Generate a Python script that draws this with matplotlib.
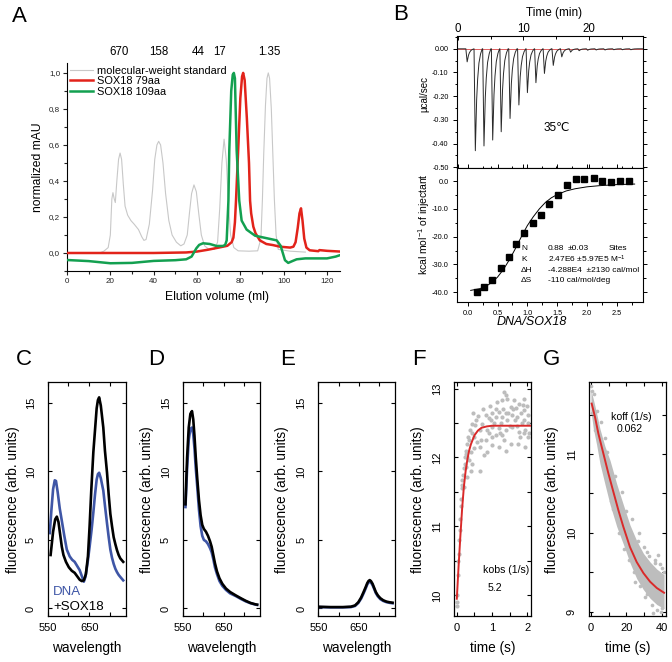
import matplotlib
matplotlib.use("Agg")
import matplotlib.pyplot as plt
from matplotlib.lines import Line2D
from matplotlib.ticker import MultipleLocator, FuncFormatter, FixedLocator, FixedFormatter
import matplotlib.transforms as mtransforms

plt.rcParams['font.family'] = ['Liberation Sans', 'DejaVu Sans']
plt.rcParams['mathtext.fontset'] = 'custom'
plt.rcParams['mathtext.rm'] = 'Liberation Sans'
plt.rcParams['mathtext.it'] = 'Liberation Sans:italic'
plt.rcParams['mathtext.bf'] = 'Liberation Sans:bold'
plt.rcParams['axes.unicode_minus'] = False

# ---------------- data: panel A (size-exclusion chromatography) ----------------
std_ml = [15, 17, 19, 20, 20.7, 21.2, 21.8, 22.3, 23.0, 23.8, 24.5, 25.2, 26.0, 26.8, 28, 29.5, 31, 33,
          34.5, 35.5, 36.5, 38, 39.5, 40.5, 41.5, 42.3, 43.2, 44.3, 45.5, 47, 48.5, 50.5, 52.5, 54, 55.5,
          56.5, 57.5, 58.6, 59.7, 60.8, 62, 63.5, 65.5, 68, 69.5, 70.5, 71.5, 72.5, 73.5, 74.5, 75.5, 77,
          79, 84, 88, 89.5, 90.2, 90.8, 91.6, 92.3, 92.9, 93.5, 94.3, 95.0, 95.7, 96.5, 97.5, 103, 110]
std_val = [0.0, 0.01, 0.03, 0.10, 0.30, 0.335, 0.30, 0.28, 0.40, 0.52, 0.555, 0.52, 0.38, 0.26, 0.21, 0.18,
           0.16, 0.13, 0.09, 0.07, 0.075, 0.16, 0.35, 0.52, 0.60, 0.62, 0.60, 0.50, 0.33, 0.18, 0.10, 0.06,
           0.04, 0.05, 0.10, 0.22, 0.33, 0.378, 0.34, 0.22, 0.10, 0.04, 0.02, 0.02, 0.06, 0.25, 0.50, 0.632,
           0.52, 0.28, 0.10, 0.03, 0.012, 0.01, 0.012, 0.08, 0.30, 0.55, 0.82, 0.97, 1.0, 0.97, 0.80, 0.55,
           0.30, 0.10, 0.02, 0.01, 0.005]
s79_ml = [0, 40, 55, 60, 65, 70, 74, 76, 76.8, 77.5, 78, 79, 80, 80.8, 81.3, 82, 83, 84, 84.5, 85, 86, 87,
          89, 92, 95, 98.3, 103, 104.5, 105.5, 106.5, 107.3, 108, 108.7, 109.5, 110.5, 112, 116, 116.5,
          120, 126]
s79_val = [0.0, 0.0, 0.003, 0.008, 0.018, 0.03, 0.04, 0.06, 0.085, 0.17, 0.29, 0.57, 0.86, 0.98, 1.0, 0.96,
           0.75, 0.50, 0.29, 0.22, 0.146, 0.11, 0.07, 0.05, 0.044, 0.035, 0.03, 0.035, 0.06, 0.14, 0.22,
           0.248, 0.18, 0.08, 0.03, 0.015, 0.01, 0.016, 0.012, 0.008]
s109_ml = [0, 10, 20, 30, 40, 50, 55, 57.5, 59.7, 61, 62.8, 65.9, 69, 72, 73, 73.7, 74.5, 74.9, 75.8, 76.5,
           77.0, 77.5, 78.3, 79.5, 80.6, 82.9, 86.8, 92.2, 96.8, 98.6, 100.6, 102.1, 104, 106, 110, 115,
           120, 124, 126]
s109_val = [-0.039, -0.045, -0.057, -0.055, -0.044, -0.04, -0.035, -0.02, 0.026, 0.045, 0.054, 0.05, 0.039,
            0.039, 0.045, 0.07, 0.29, 0.57, 0.90, 0.99, 1.0, 0.97, 0.57, 0.29, 0.18, 0.13, 0.096, 0.082,
            0.07, 0.04, -0.04, -0.055, -0.045, -0.035, -0.03, -0.03, -0.03, -0.02, -0.012]
mw_labels = ['670', '158', '44', '17', '1.35']
mw_pos_ml = [24.0, 42.5, 60.5, 70.3, 93.2]
legendA = ['molecular-weight standard', 'SOX18 79aa', 'SOX18 109aa']

# ---------------- data: panel B (ITC) ----------------
inj_time = [1.4, 2.65, 3.97, 5.3, 6.6, 7.95, 9.3, 10.6, 11.9, 13.2, 14.55, 15.85, 17.2, 18.5, 19.8,
            21.1, 22.45, 23.8, 25.1, 26.4]
inj_peak = [-0.055, -0.43, -0.41, -0.385, -0.35, -0.294, -0.237, -0.185, -0.143, -0.104, -0.07, -0.034,
            -0.014, -0.008, -0.006, -0.005, -0.005, -0.004, -0.004, -0.004]
itc_ratio = [0.15, 0.28, 0.41, 0.55, 0.69, 0.81, 0.95, 1.09, 1.23, 1.37, 1.52, 1.66, 1.81, 1.95, 2.11,
             2.25, 2.40, 2.56, 2.70]
itc_heat = [-40.1, -38.1, -35.6, -31.5, -27.2, -22.6, -18.5, -15.2, -12.2, -8.3, -4.9, -1.45, 0.8, 0.7,
            1.3, 0.0, -0.1, 0.0, 0.0]
fit_ratio = [0.05, 0.2, 0.3, 0.4, 0.5, 0.6, 0.7, 0.8, 0.9, 1.0, 1.1, 1.2, 1.3, 1.4, 1.5, 1.65, 1.8, 2.0,
             2.2, 2.5, 2.8]
fit_heat = [-39.4, -38.8, -38.0, -36.6, -34.6, -31.8, -28.3, -24.3, -20.0, -16.0, -12.8, -10.0, -7.7,
            -6.0, -4.8, -3.5, -2.7, -2.0, -1.6, -1.2, -1.0]
itc_param_names = ['N', 'K', 'ΔH', 'ΔS']
itc_param_values = ['0.88', '2.47E6 ±5.97E5 M$^{-1}$', '-4.288E4  ±2130 cal/mol', '-110 cal/mol/deg']

# ---------------- data: panels C-E (spectra) ----------------
C_blk_nm = [557, 563, 568, 572, 576, 580, 584, 588, 594, 601, 608, 615, 621, 627, 632, 637, 642, 647, 651,
            655, 660, 664, 668, 671, 674, 678, 684, 688, 693, 697, 701, 705, 709, 713, 717, 721, 725, 732]
C_blk = [3.9, 5.6, 6.5, 6.7, 6.3, 5.4, 4.5, 3.9, 3.4, 3.0, 2.75, 2.6, 2.35, 2.1, 2.0, 2.05, 2.5, 3.8, 6.0,
         8.6, 11.4, 13.0, 14.6, 15.2, 15.4, 14.8, 13.2, 11.5, 9.9, 8.3, 6.9, 6.0, 5.2, 4.7, 4.25, 3.9, 3.65,
         3.4]
C_blu_nm = [555, 559, 563, 567, 570, 574, 579, 584, 590, 596, 603, 609, 615, 621, 627, 633, 637, 641, 646,
            651, 656, 660, 664, 668, 671, 674, 678, 684, 688, 693, 697, 701, 705, 709, 713, 717, 721, 725,
            732]
C_blu = [5.5, 7.2, 8.7, 9.35, 9.3, 8.5, 7.3, 6.4, 5.3, 4.3, 3.8, 3.55, 3.4, 3.1, 2.8, 2.3, 1.95, 2.3, 3.3,
         4.5, 5.8, 7.0, 8.3, 9.4, 9.8, 9.9, 9.5, 8.6, 7.5, 6.2, 5.2, 4.3, 3.7, 3.25, 2.9, 2.65, 2.45, 2.3,
         2.05]
D_nm = [556, 560, 564, 568, 572, 575, 578, 581, 585, 589, 593, 597, 601, 606, 611, 616, 620, 624, 628, 633,
        639, 646, 655, 665, 679, 691, 703, 715, 727, 731]
D_blk = [7.6, 11.0, 13.2, 14.2, 14.4, 13.8, 12.6, 11.1, 9.4, 7.9, 6.8, 6.1, 5.8, 5.6, 5.3, 4.9, 4.5, 3.9,
         3.3, 2.7, 2.2, 1.8, 1.45, 1.2, 0.95, 0.75, 0.56, 0.4, 0.3, 0.28]
D_blu = [7.4, 10.2, 12.3, 13.1, 13.2, 12.7, 11.7, 10.3, 8.8, 7.2, 6.0, 5.3, 5.0, 4.9, 4.7, 4.4, 4.1, 3.6,
         3.0, 2.5, 2.0, 1.65, 1.35, 1.1, 0.9, 0.7, 0.52, 0.38, 0.28, 0.26]
E_nm = [554, 580, 610, 630, 640, 648, 655, 661, 666, 670, 673, 676, 679, 683, 687, 691, 696, 702, 709, 717,
        725, 732]
E_blk = [0.12, 0.1, 0.1, 0.13, 0.22, 0.45, 0.8, 1.2, 1.55, 1.85, 2.0, 2.07, 2.0, 1.8, 1.5, 1.2, 0.95, 0.75,
         0.6, 0.5, 0.45, 0.42]
E_blu = [0.1, 0.08, 0.08, 0.1, 0.18, 0.4, 0.72, 1.1, 1.45, 1.75, 1.9, 1.95, 1.9, 1.7, 1.42, 1.12, 0.88,
         0.68, 0.55, 0.46, 0.41, 0.38]
legendC = ['DNA', '+SOX18']

# ---------------- data: panel F (association kinetics) ----------------
F_t = [1.34, 1.39, 1.44, 1.29, 1.63, 1.77, 1.87, 1.53, 1.67, 1.91, 1.2, 1.01, 1.39, 1.82, 0.82, 1.1, 1.29,
       1.58, 1.72, 2.01, 0.91, 1.44, 1.91, 0.72, 0.44, 0.53, 1.01, 1.2, 1.39, 1.58, 1.77, 1.91, 2.01, 0.91,
       1.1, 1.29, 0.82, 0.58, 1.01, 0.67, 1.2, 0.865, 0.77, 0.485, 0.39, 0.295, 0.34, 0.44, 0.247, 0.39,
       0.67, 0.295, 0.15, 0.2, 0.6, 0.65, 0.75, 0.95, 1.05, 1.15, 1.25, 1.35, 1.45, 1.5, 1.55, 1.6, 1.7,
       1.75, 1.85, 1.9, 1.95, 2.0, 2.03, 0.5, 0.55, 0.35, 0.25, 0.45, 0.85, 1.0, 1.3, 1.4, 1.65, 1.8, 1.95,
       2.05, 0.7, 1.12, 1.22, 0.98, 0.0, 0.0, 0.01, 0.02, 0.03, 0.05, 0.06, 0.08, 0.1, 0.11, 0.13, 0.14,
       0.16, 0.18, 0.2, 0.22, 0.24, 0.27, 0.3, 0.33, 0.38, 0.42]
F_v = [12.95, 12.9, 12.85, 12.83, 12.83, 12.78, 12.76, 12.73, 12.71, 12.69, 12.66, 12.64, 12.64, 12.64,
       12.61, 12.59, 12.59, 12.61, 12.59, 12.61, 12.57, 12.54, 12.54, 12.49, 12.49, 12.47, 12.44, 12.42,
       12.4, 12.44, 12.37, 12.35, 12.3, 12.35, 12.32, 12.32, 12.25, 12.23, 12.18, 12.15, 12.15, 12.08,
       12.03, 12.13, 12.08, 12.01, 11.96, 11.91, 11.86, 11.81, 11.81, 11.72, 11.67, 11.57, 12.6, 12.4,
       12.7, 12.75, 12.5, 12.8, 12.5, 12.25, 12.65, 12.45, 12.2, 12.7, 12.45, 12.2, 12.5, 12.85, 12.4,
       12.75, 12.5, 12.3, 12.55, 12.25, 12.1, 12.65, 12.4, 12.3, 12.7, 12.1, 12.55, 12.3, 12.15, 12.35,
       12.25, 12.7, 12.35, 12.55, 9.85, 9.9, 10.0, 10.3, 10.5, 10.6, 10.8, 10.95, 11.1, 11.3, 11.4, 11.55,
       11.6, 11.75, 11.85, 11.9, 12.0, 12.05, 12.2, 12.3, 12.4, 12.35]
F_fit_t = [0, 0.05, 0.1, 0.15, 0.2, 0.25, 0.3, 0.35, 0.4, 0.5, 0.6, 0.7, 0.85, 1.0, 2.08]
F_fit_v = [9.95, 10.42, 10.85, 11.25, 11.57, 11.8, 11.97, 12.1, 12.19, 12.32, 12.39, 12.43, 12.45, 12.46,
           12.46]

# ---------------- data: panel G (dissociation kinetics) ----------------
G_fit_t = [0.4, 2.3, 4.2, 7.0, 9.8, 12.7, 15.5, 18.3, 22.1, 25.9, 29.7, 33.5, 37.3, 41.4]
G_fit_v = [11.64, 11.47, 11.26, 11.01, 10.76, 10.52, 10.29, 10.08, 9.82, 9.63, 9.49, 9.38, 9.30, 9.24]
G_band_t = [0.0, 1.3, 3.2, 5.1, 7.9, 10.8, 14.6, 18.3, 22.1, 25.9, 29.7, 33.5, 37.3, 41.4]
G_band_hi = [11.81, 11.70, 11.52, 11.32, 11.10, 10.92, 10.62, 10.36, 10.10, 9.90, 9.74, 9.63, 9.54, 9.47]
G_band_lo = [11.55, 11.33, 11.12, 10.88, 10.62, 10.36, 10.08, 9.86, 9.62, 9.42, 9.28, 9.17, 9.09, 9.04]
G_t = [0.3, 0.8, 1.5, 0.5, 2.2, 3.5, 5.5, 6.8, 9.0, 11.5, 13.5, 16.0, 17.5, 20.0, 21.5, 23.0, 24.5, 26.5,
       28.0, 30.0, 31.5, 33.0, 34.5, 36.0, 37.5, 39.0, 40.5, 41.2, 35.0, 38.0, 30.5, 25.0, 19.0, 12.5,
       8.0, 27.0, 32.0, 39.5, 36.5, 40.0]
G_v = [11.86, 11.80, 11.76, 11.52, 11.30, 11.55, 11.40, 10.85, 11.02, 10.40, 10.72, 10.00, 10.52, 10.28,
       9.65, 10.18, 9.50, 9.90, 9.32, 9.82, 9.22, 9.70, 9.08, 9.62, 9.02, 9.60, 9.05, 9.50, 8.98, 9.72,
       9.18, 9.38, 9.80, 10.30, 11.20, 10.00, 9.76, 8.99, 9.66, 9.56]

# ---------------- figure ----------------
W, H = 672, 662
fig = plt.figure(figsize=(W / 100, H / 100), dpi=100)


def add_ax(l, t, r, b):
    return fig.add_axes([l / W, 1 - b / H, (r - l) / W, (b - t) / H])


def ftext(x, y, s, **kw):
    return fig.text(x / W, 1 - y / H, s, **kw)


RED = '#e2231a'
GREEN = '#13a050'
GRAY = '#c8c8c8'
BLUE = '#3f56a6'
DOT = '#bdbdbd'
FITRED = '#d92a2a'

# panel letters
for letter, (x, y) in zip('ABCDEFG', [(19.5, 22), (401, 20), (24, 365), (156, 365), (288, 365),
                                      (419, 365), (552, 365)]):
    ftext(x, y, letter, fontsize=16, ha='center', va='baseline')

# ---------------- panel A ----------------
axA = add_ax(67, 63, 340, 271)
axA.plot(std_ml, std_val, color=GRAY, lw=0.8, zorder=2)
axA.plot(s79_ml, s79_val, color=RED, lw=1.8, zorder=3)
axA.plot(s109_ml, s109_val, color=GREEN, lw=1.8, zorder=4)
axA.set_xlim(0, 126)
axA.set_ylim(-0.1, 1.055)
axA.spines['top'].set_visible(False)
axA.spines['right'].set_visible(False)
for s in ('left', 'bottom'):
    axA.spines[s].set_linewidth(0.8)
axA.xaxis.set_major_locator(MultipleLocator(20))
axA.xaxis.set_minor_locator(MultipleLocator(10))
axA.yaxis.set_major_locator(FixedLocator([0.0, 0.2, 0.4, 0.6, 0.8, 1.0]))
axA.yaxis.set_minor_locator(FixedLocator([-0.1, 0.1, 0.3, 0.5, 0.7, 0.9]))
axA.yaxis.set_major_formatter(FuncFormatter(lambda v, p: f'{v:.1f}'.replace('.', ',')))
axA.tick_params(which='both', direction='out', labelsize=5.8, width=0.8, colors='#222222', pad=2)
axA.tick_params(which='major', length=3)
axA.tick_params(which='minor', length=2)
axA.set_xlabel('Elution volume (ml)', fontsize=8.7)
axA.xaxis.set_label_coords(0.549, -0.096)
axA.set_ylabel('normalized mAU', fontsize=8.7)
axA.yaxis.set_label_coords(-0.084, 0.5)
transA = mtransforms.blended_transform_factory(axA.transData, fig.transFigure)
for lab, pos in zip(mw_labels, mw_pos_ml):
    axA.text(pos, 1 - 52 / H, lab, transform=transA, fontsize=8.3, ha='center', va='center')
handles = [Line2D([], [], color=GRAY, lw=0.8), Line2D([], [], color=RED, lw=1.8),
           Line2D([], [], color=GREEN, lw=1.8)]
axA.legend(handles, legendA, loc='upper left', bbox_to_anchor=(0.012, 0.985), frameon=False,
           fontsize=7.9, handlelength=2.1, handletextpad=0.3, labelspacing=0.02, borderpad=0,
           borderaxespad=0)

# ---------------- panel B top (raw ITC) ----------------
SPIKE_DT = [-0.2, 0.0, 0.1, 0.2, 0.35, 0.55, 0.8, 1.05]
SPIKE_FRAC = [0.0, 1.0, 0.75, 0.5, 0.3, 0.14, 0.05, 0.0]
trace_t, trace_v = [-0.15], [0.0]
for t0, pk in zip(inj_time, inj_peak):
    for dt, fr in zip(SPIKE_DT, SPIKE_FRAC):
        trace_t.append(t0 + dt)
        trace_v.append(pk * fr)
trace_t.append(28.25)
trace_v.append(0.0)

axBt = add_ax(457, 36, 643, 168)
axBt.axhline(0, color='#e06060', lw=0.7, zorder=1)
axBt.plot(trace_t, trace_v, color='#2a2a2a', lw=0.7, zorder=2)
axBt.set_xlim(-0.15, 28.25)
axBt.set_ylim(-0.503, 0.054)
axBt.xaxis.tick_top()
axBt.xaxis.set_label_position('top')
axBt.xaxis.set_major_locator(MultipleLocator(10))
axBt.xaxis.set_minor_locator(MultipleLocator(5))
axBt.yaxis.set_major_locator(MultipleLocator(0.1))
axBt.yaxis.set_minor_locator(MultipleLocator(0.05))
axBt.yaxis.set_major_formatter(FuncFormatter(lambda v, p: f'{v:.2f}'))
axBt.tick_params(axis='x', which='both', direction='in', labelsize=8.3, pad=1.0, width=0.7)
axBt.tick_params(axis='x', which='both', bottom=True, labelbottom=False)
axBt.tick_params(axis='y', which='both', direction='out', labelsize=5.2, pad=3, width=0.7,
                 right=True)
axBt.tick_params(which='major', length=3)
axBt.tick_params(which='minor', length=1.8)
for s in axBt.spines.values():
    s.set_linewidth(0.8)
axBt.set_xlabel('Time (min)', fontsize=8.5)
axBt.xaxis.set_label_coords(0.52, 1.15)
axBt.set_ylabel('µcal/sec', fontsize=7)
axBt.yaxis.set_label_coords(-0.15, 0.56)
axBt.text(15.0, -0.336, '35℃', fontsize=8.5, ha='center', va='center')

# ---------------- panel B bottom (isotherm) ----------------
axBb = add_ax(457, 168, 643, 302)
axBb.plot(fit_ratio, fit_heat, color='black', lw=0.7, zorder=2)
axBb.plot(itc_ratio, itc_heat, ls='none', marker='s', ms=3.8, color='black', zorder=3)
axBb.set_xlim(-0.18, 2.94)
axBb.set_ylim(-43.6, 4.8)
axBb.xaxis.set_major_locator(MultipleLocator(0.5))
axBb.xaxis.set_minor_locator(MultipleLocator(0.25))
axBb.yaxis.set_major_locator(MultipleLocator(10))
axBb.yaxis.set_minor_locator(MultipleLocator(5))
axBb.xaxis.set_major_formatter(FuncFormatter(lambda v, p: f'{v:.1f}'))
axBb.yaxis.set_major_formatter(FuncFormatter(lambda v, p: f'{v:.1f}'))
axBb.tick_params(which='both', direction='out', labelsize=5.3, pad=3, width=0.7, top=True, right=True)
axBb.tick_params(which='major', length=3)
axBb.tick_params(which='minor', length=1.8)
for s in axBb.spines.values():
    s.set_linewidth(0.8)
axBb.set_ylabel('kcal mol$^{-1}$ of injectant', fontsize=7.5)
axBb.yaxis.set_label_coords(-0.134, 0.58)
axBb.set_xlabel('DNA/SOX18', fontsize=9, style='italic')
axBb.xaxis.set_label_coords(0.40, -0.104)
row_y = [249, 259.5, 270, 280.5]
for name, val, y in zip(itc_param_names, itc_param_values, row_y):
    ftext(521, y, name, fontsize=6, va='center', ha='left')
    ftext(548, y, val, fontsize=6, va='center', ha='left')
ftext(568, row_y[0], '±0.03', fontsize=6, va='center', ha='left')
ftext(609, row_y[0], 'Sites', fontsize=6, va='center', ha='left')


# ---------------- panels C-G ----------------
def style_low(ax, ylab_center_px, left_px, width_px):
    for s in ax.spines.values():
        s.set_linewidth(0.9)
    ax.tick_params(which='both', direction='in', top=True, right=True, width=0.8, labelsize=8)
    ax.tick_params(which='major', length=2.8)
    ax.tick_params(which='minor', length=2.8)
    ax.tick_params(axis='y', which='both', labelrotation=90, pad=8.7)
    ax.tick_params(axis='x', which='both', pad=5)
    for lab in ax.get_yticklabels():
        lab.set_va('center')
    ax.yaxis.set_label_coords((ylab_center_px + 7.8 - left_px) / width_px, 0.5)
    ax.xaxis.set_label_coords(0.5, -0.108)


spec_axes = []
for (l, r, ylc) in [(47.7, 125.7, 12.5), (183, 260, 146.7), (318.3, 395, 280.8)]:
    ax = add_ax(l, 382.3, r, 616)
    ax.set_xlim(550, 738)
    ax.set_ylim(-0.55, 16.5)
    ax.xaxis.set_major_locator(FixedLocator([550, 600, 650, 700]))
    ax.xaxis.set_major_formatter(FixedFormatter(['550', '', '650', '']))
    ax.yaxis.set_major_locator(FixedLocator([0, 5, 10, 15]))
    ax.set_xlabel('wavelength', fontsize=9.8)
    ax.set_ylabel('fluorescence (arb. units)', fontsize=9.8)
    style_low(ax, ylc, l, r - l)
    spec_axes.append(ax)

axC, axD, axE = spec_axes
axC.plot(C_blu_nm, C_blu, color=BLUE, lw=1.9)
axC.plot(C_blk_nm, C_blk, color='black', lw=1.9)
axD.plot(D_nm, D_blu, color=BLUE, lw=1.9)
axD.plot(D_nm, D_blk, color='black', lw=1.9)
axE.plot(E_nm, E_blu, color=BLUE, lw=1.9)
axE.plot(E_nm, E_blk, color='black', lw=1.9)
ftext(53, 591.7, legendC[0], color=BLUE, fontsize=9.5, ha='left', va='center')
ftext(53, 606.7, legendC[1], color='black', fontsize=9.5, ha='left', va='center')

# panel F
axF = add_ax(454, 382.3, 530.7, 616)
axF.scatter(F_t, F_v, s=9, color=DOT, linewidths=0, zorder=2)
axF.plot(F_fit_t, F_fit_v, color=FITRED, lw=1.4, zorder=3)
axF.set_xlim(-0.08, 2.1)
axF.set_ylim(9.7, 13.09)
axF.xaxis.set_major_locator(FixedLocator([0, 1, 2]))
axF.xaxis.set_minor_locator(FixedLocator([0.5, 1.5]))
axF.yaxis.set_major_locator(FixedLocator([10, 11, 12, 13]))
axF.yaxis.set_minor_locator(FixedLocator([10.5, 11.5, 12.5]))
axF.set_xlabel('time (s)', fontsize=9.8)
axF.set_ylabel('fluorescence (arb. units)', fontsize=9.8)
style_low(axF, 417.5, 454, 76.7)
ftext(506, 570, 'kobs (1/s)', fontsize=7.6, ha='center', va='center')
ftext(495, 588, '5.2', fontsize=7.6, ha='center', va='center')

# panel G
axG = add_ax(589, 382.3, 666, 616)
axG.fill_between(G_band_t, G_band_lo, G_band_hi, color=DOT, lw=0, zorder=1)
axG.scatter(G_t, G_v, s=7, color=DOT, linewidths=0, zorder=2)
axG.plot(G_fit_t, G_fit_v, color=FITRED, lw=1.4, zorder=3)
axG.set_xlim(-1.1, 42.5)
axG.set_ylim(8.945, 11.91)
axG.xaxis.set_major_locator(FixedLocator([0, 20, 40]))
axG.xaxis.set_minor_locator(FixedLocator([10, 30]))
axG.yaxis.set_major_locator(FixedLocator([9, 10, 11]))
axG.yaxis.set_minor_locator(FixedLocator([9.5, 10.5, 11.5]))
axG.set_xlabel('time (s)', fontsize=9.8)
axG.set_ylabel('fluorescence (arb. units)', fontsize=9.8)
style_low(axG, 551, 589, 77)
ftext(631, 417.3, 'koff (1/s)', fontsize=7.6, ha='center', va='center')
ftext(629.7, 429.3, '0.062', fontsize=7.6, ha='center', va='center')

fig.savefig('out.png', dpi=100)
